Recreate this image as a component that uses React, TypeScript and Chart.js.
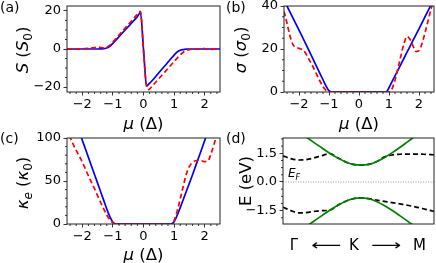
import React, { useEffect, useRef } from "react";
import { Chart, registerables } from "chart.js";

Chart.register(...registerables);

const FONT = '"DejaVu Sans", "Liberation Sans", sans-serif';
const W = 436;
const H = 263;

// ---------- data ----------
// (a) Seebeck coefficient S (S0) vs mu (Delta)
const muA = [-2.5, -2.2, -2.0, -1.8, -1.6, -1.5, -1.4, -1.3, -1.2, -1.1, -1.0, -0.8, -0.6, -0.4, -0.2, -0.1, 0, 0.1, 0.17, 0.3, 0.5, 0.7, 0.9, 1.0, 1.1, 1.2, 1.3, 1.4, 1.5, 1.6, 1.8, 2.0, 2.2, 2.4, 2.5];
const seebeckModel = [0, 0, 0, 0, 0, 0, 0.05, 0.2, 0.5, 1.4, 3.0, 6.5, 10.0, 13.5, 17.0, 19.2, 0, -19.5, -18.5, -16.3, -12.5, -8.8, -5.0, -3.2, -1.6, -0.7, -0.3, -0.1, 0, 0, 0, 0, 0, 0, 0];
const seebeckDft = [0, 0.1, 0.1, 0.3, 0.7, 1.0, 0.8, 0.6, 0.9, 2.0, 3.7, 7.3, 11.0, 14.6, 18.2, 19.8, -1, -19.5, -21.3, -19.2, -15.6, -12.0, -8.4, -6.6, -4.8, -3.1, -1.7, -0.8, -0.3, -0.1, 0.1, 0.2, -0.2, 0.1, 0];

// (b) electrical conductivity sigma (sigma0) and (c) electronic thermal conductivity kappa_e (kappa0)
const muB = [-2.5, -2.4, -2.3, -2.2, -2.1, -2.0, -1.9, -1.8, -1.7, -1.6, -1.5, -1.4, -1.3, -1.2, -1.1, -1.0, -0.9, -0.5, 0, 0.5, 0.9, 1.0, 1.1, 1.2, 1.3, 1.4, 1.5, 1.6, 1.7, 1.8, 1.9, 2.0, 2.1, 2.2, 2.3, 2.4, 2.5];
const sigmaModel = [42.7, 40, 37.2, 34.4, 31.6, 28.8, 26, 23.1, 20.2, 17.3, 14.4, 11.5, 8.6, 5.7, 2.8, 0.5, 0, 0, 0, 0, 0, 2.0, 4.8, 7.5, 10.2, 13, 15.7, 18.5, 21.2, 24, 26.7, 29.4, 32.2, 35, 37.7, 40.5, 43.2];
const sigmaDft = [37.5, 32, 26, 22, 20.8, 20.3, 19.8, 18.5, 16, 13.5, 10.8, 7.8, 5, 2.5, 0.8, 0.1, 0, 0, 0, 0, 0, 0, 1.5, 5.5, 11, 17, 22.5, 25.8, 24.5, 21.5, 18.8, 19.2, 22.5, 27.5, 33, 38.5, 43];
const kappaModel = [150, 140, 129, 118, 108, 97.5, 87.5, 77.5, 67.5, 57.5, 47.5, 37.5, 27.5, 17.5, 8.5, 2, 0, 0, 0, 0, 0, 2.5, 10, 19, 28.5, 38, 47.5, 57, 67, 77, 87, 97, 107, 117, 127, 137, 147];
const kappaDft = [112, 101, 93, 85.5, 79, 72, 64, 56, 48.5, 41, 33, 25, 17.5, 10.5, 5, 1.5, 0, 0, 0, 0, 0, 4, 15, 29, 44, 58, 67, 71.5, 73.5, 74, 73.5, 72.5, 73, 81, 92, 104, 116];

// (d) band structure along Gamma <- K -> M (K at 0)
const kPath = [-1.0, -0.9, -0.8, -0.7, -0.6, -0.5, -0.4, -0.3, -0.2, -0.1, 0, 0.1, 0.2, 0.3, 0.4, 0.5, 0.6, 0.7, 0.8, 0.9, 0.94];
const bandModelUpper = [3.2, 2.95, 2.65, 2.35, 2.06, 1.78, 1.5, 1.26, 1.06, 0.92, 0.88, 0.92, 1.06, 1.27, 1.52, 1.8, 2.1, 2.4, 2.7, 3.0, 3.12];
const bandModelLower = [-3.15, -2.9, -2.62, -2.33, -2.04, -1.76, -1.48, -1.23, -1.02, -0.88, -0.83, -0.88, -1.02, -1.23, -1.48, -1.76, -2.05, -2.35, -2.65, -2.95, -3.07];
const bandDftUpper = [1.37, 1.22, 1.15, 1.17, 1.26, 1.38, 1.48, 1.27, 1.06, 0.92, 0.88, 0.92, 1.06, 1.3, 1.41, 1.45, 1.46, 1.46, 1.45, 1.43, 1.42];
const bandDftLower = [-1.32, -1.5, -1.62, -1.6, -1.54, -1.5, -1.48, -1.23, -1.02, -0.88, -0.83, -0.87, -0.95, -1.02, -1.08, -1.15, -1.22, -1.3, -1.4, -1.5, -1.54];
const fermiLevel = 0;

// tick labels
const muTicks = [-2, -1, 0, 1, 2];
const seebeckTicks = [-20, 0, 20];
const sigmaTicks = [0, 20, 40];
const kappaTicks = [0, 50, 100];
const energyTicks = [-1.5, 0, 1.5];

// ---------- helpers ----------
type Seg = { t: string; it?: boolean; sub?: boolean };
type TextItem = { segs: Seg[]; x: number; y: number; size: number; rot?: boolean; align?: "left" | "center"; sx?: number };

const minus = (s: string) => s.replace("-", "\u2212");
const fmtInt = (v: number) => minus(String(v));
const fmt1 = (v: number) => minus(v.toFixed(1));

function drawRich(ctx: CanvasRenderingContext2D, item: TextItem) {
  const { segs, x, y, size, rot, align = "center", sx = 1 } = item;
  ctx.save();
  ctx.translate(x, y);
  if (rot) ctx.rotate(-Math.PI / 2);
  if (sx !== 1) ctx.scale(sx, 1);
  const fontOf = (s: Seg) => `${s.it ? "italic " : ""}${s.sub ? Math.round(size * 0.7) : size}px ${FONT}`;
  let total = 0;
  const widths = segs.map((s) => {
    ctx.font = fontOf(s);
    const w = ctx.measureText(s.t).width;
    total += w;
    return w;
  });
  let cx = align === "center" ? -total / 2 : 0;
  ctx.textBaseline = "alphabetic";
  ctx.textAlign = "left";
  ctx.fillStyle = "#000";
  const base = size * 0.36;
  segs.forEach((s, i) => {
    ctx.font = fontOf(s);
    ctx.fillText(s.t, cx, base + (s.sub ? size * 0.22 : 0));
    cx += widths[i];
  });
  ctx.restore();
}

const pts = (xs: number[], ys: number[]) => xs.map((x, i) => ({ x, y: ys[i] }));

const line = (data: any[], color: string, dashed: boolean, width = 1.7) => ({
  data,
  borderColor: color,
  borderWidth: width,
  borderDash: dashed ? [5, 3] : [],
  pointRadius: 0,
  fill: false,
  cubicInterpolationMode: "monotone",
});

interface PanelSpec {
  box: { l: number; t: number; r: number; b: number };
  xRange: [number, number];
  yRange: [number, number];
  xTicks: number[];
  yTicks: number[];
  yFmt: (v: number) => string;
  xMinor: number | null;
  yMinor: number;
  datasets: any[];
  texts: TextItem[];
}

const YW = 40;
const XH = 30;
const TICK_SIZE = 13;
const TITLE_SIZE = 16.5;

const muTitle = (x: number, y: number): TextItem => ({
  segs: [{ t: "\u03bc", it: true }, { t: " (\u0394)" }],
  x,
  y,
  size: TITLE_SIZE,
});

const specs: PanelSpec[] = [
  {
    box: { l: 67, t: 6, r: 220, b: 92 },
    xRange: [-2.5, 2.5],
    yRange: [-22.6, 22.6],
    xTicks: muTicks,
    yTicks: seebeckTicks,
    yFmt: fmtInt,
    xMinor: 0.2,
    yMinor: 5,
    datasets: [line(pts(muA, seebeckDft), "#ff0000", true), line(pts(muA, seebeckModel), "#0000ff", false)],
    texts: [
      { segs: [{ t: "(a)" }], x: 0, y: 6.5, size: 14, align: "left" },
      { segs: [{ t: "S", it: true }, { t: " (" }, { t: "S", it: true }, { t: "0", sub: true }, { t: ")" }], x: 22, y: 50, size: TITLE_SIZE, rot: true },
      muTitle(143.5, 123),
    ],
  },
  {
    box: { l: 284, t: 6, r: 434, b: 92 },
    xRange: [-2.5, 2.5],
    yRange: [0, 40],
    xTicks: muTicks,
    yTicks: sigmaTicks,
    yFmt: fmtInt,
    xMinor: 0.2,
    yMinor: 5,
    datasets: [line(pts(muB, sigmaDft), "#ff0000", true), line(pts(muB, sigmaModel), "#0000ff", false)],
    texts: [
      { segs: [{ t: "(b)" }], x: 226, y: 6.5, size: 14, align: "left" },
      { segs: [{ t: "\u03c3", it: true }, { t: " (" }, { t: "\u03c3", it: true }, { t: "0", sub: true }, { t: ")" }], x: 240, y: 50, size: TITLE_SIZE, rot: true },
      muTitle(359, 123),
    ],
  },
  {
    box: { l: 67, t: 138, r: 220, b: 224 },
    xRange: [-2.5, 2.5],
    yRange: [0, 100],
    xTicks: muTicks,
    yTicks: kappaTicks,
    yFmt: fmtInt,
    xMinor: 0.2,
    yMinor: 10,
    datasets: [line(pts(muB, kappaDft), "#ff0000", true), line(pts(muB, kappaModel), "#0000ff", false)],
    texts: [
      { segs: [{ t: "(c)" }], x: 0, y: 137.5, size: 14, align: "left" },
      {
        segs: [{ t: "\u03ba", it: true }, { t: "e", it: true, sub: true }, { t: " (" }, { t: "\u03ba", it: true }, { t: "0", sub: true }, { t: ")" }],
        x: 22,
        y: 183,
        size: TITLE_SIZE,
        rot: true,
      },
      muTitle(143.5, 254),
    ],
  },
  {
    box: { l: 283, t: 138, r: 434, b: 224 },
    xRange: [-1.0, 0.94],
    yRange: [-2.2, 2.3],
    xTicks: [],
    yTicks: energyTicks,
    yFmt: fmt1,
    xMinor: null,
    yMinor: 0.375,
    datasets: [
      line(pts(kPath, bandModelUpper), "#008000", false),
      line(pts(kPath, bandModelLower), "#008000", false),
      line(pts(kPath, bandDftUpper), "#000000", true),
      line(pts(kPath, bandDftLower), "#000000", true),
      {
        data: [
          { x: kPath[0], y: fermiLevel },
          { x: kPath[kPath.length - 1], y: fermiLevel },
        ],
        borderColor: "#999999",
        borderWidth: 1,
        borderDash: [1, 1.5],
        pointRadius: 0,
        fill: false,
      },
    ],
    texts: [
      { segs: [{ t: "(d)" }], x: 226, y: 137.5, size: 14, align: "left" },
      { segs: [{ t: "E (eV)" }], x: 245, y: 181, size: TITLE_SIZE, rot: true },
      { segs: [{ t: "E", it: true }, { t: "F", it: true, sub: true }], x: 288, y: 173, size: 12, align: "left" },
      { segs: [{ t: "\u0393" }], x: 294, y: 244.5, size: 15 },
      { segs: [{ t: "\u27f5" }], x: 326, y: 244.5, size: 15, sx: 1.4 },
      { segs: [{ t: "K" }], x: 354, y: 244.5, size: 15 },
      { segs: [{ t: "\u27f6" }], x: 386, y: 244.5, size: 15, sx: 1.4 },
      { segs: [{ t: "M" }], x: 419.5, y: 244.5, size: 15 },
    ],
  },
];

function decorPlugin(spec: PanelSpec) {
  return {
    id: "decor",
    afterDatasetsDraw(chart: any) {
      const ctx: CanvasRenderingContext2D = chart.ctx;
      const a = chart.chartArea;
      const xs = chart.scales.x;
      const ys = chart.scales.y;
      ctx.save();
      ctx.strokeStyle = "#000";
      ctx.lineWidth = 0.8;
      const near = (v: number, list: number[]) => list.some((m) => Math.abs(m - v) < 1e-6);
      ctx.beginPath();
      const [y0, y1] = spec.yRange;
      for (let v = Math.ceil(y0 / spec.yMinor) * spec.yMinor; v <= y1 + 1e-9; v += spec.yMinor) {
        const vv = Math.round(v * 1000) / 1000;
        if (near(vv, spec.yTicks)) continue;
        const py = ys.getPixelForValue(vv);
        ctx.moveTo(a.left - 2, py);
        ctx.lineTo(a.left, py);
      }
      if (spec.xMinor) {
        const [x0, x1] = spec.xRange;
        for (let v = Math.ceil(x0 / spec.xMinor) * spec.xMinor; v <= x1 + 1e-9; v += spec.xMinor) {
          const vv = Math.round(v * 1000) / 1000;
          if (near(vv, spec.xTicks)) continue;
          const px = xs.getPixelForValue(vv);
          ctx.moveTo(px, a.bottom);
          ctx.lineTo(px, a.bottom + 2);
        }
      }
      ctx.stroke();
      ctx.lineWidth = 1;
      ctx.strokeStyle = "#222";
      ctx.strokeRect(a.left, a.top, a.right - a.left, a.bottom - a.top);
      ctx.restore();
    },
    afterDraw(chart: any) {
      const ctx: CanvasRenderingContext2D = chart.ctx;
      spec.texts.forEach((t) => drawRich(ctx, t));
    },
  };
}

function Panel({ spec }: { spec: PanelSpec }) {
  const ref = useRef<HTMLCanvasElement | null>(null);
  useEffect(() => {
    if (!ref.current) return;
    const { box } = spec;
    const chart = new Chart(ref.current, {
      type: "line",
      data: { datasets: spec.datasets },
      options: {
        animation: false,
        responsive: false,
        maintainAspectRatio: false,
        devicePixelRatio: 1,
        events: [],
        layout: {
          padding: { left: box.l - YW, top: box.t, right: W - box.r, bottom: H - box.b - XH },
        },
        plugins: {
          legend: { display: false },
          tooltip: { enabled: false },
          title: { display: false },
        },
        scales: {
          x: {
            type: "linear",
            min: spec.xRange[0],
            max: spec.xRange[1],
            afterBuildTicks: (s: any) => {
              s.ticks = spec.xTicks.map((v) => ({ value: v }));
            },
            afterFit: (s: any) => {
              s.height = XH;
              s.paddingLeft = 0;
              s.paddingRight = 0;
              s.paddingTop = 0;
              s.paddingBottom = 0;
            },
            grid: { drawOnChartArea: false, drawTicks: spec.xTicks.length > 0, tickLength: 3.5, color: "#000", lineWidth: 0.8 },
            border: { display: false },
            ticks: {
              display: spec.xTicks.length > 0,
              font: { family: FONT, size: TICK_SIZE },
              color: "#000",
              padding: 1.5,
              maxRotation: 0,
              autoSkip: false,
              callback: (v: any) => fmtInt(Number(v)),
            },
          },
          y: {
            type: "linear",
            min: spec.yRange[0],
            max: spec.yRange[1],
            afterBuildTicks: (s: any) => {
              s.ticks = spec.yTicks.map((v) => ({ value: v }));
            },
            afterFit: (s: any) => {
              s.width = YW;
              s.paddingLeft = 0;
              s.paddingRight = 0;
              s.paddingTop = 0;
              s.paddingBottom = 0;
            },
            grid: { drawOnChartArea: false, drawTicks: true, tickLength: 3.5, color: "#000", lineWidth: 0.8 },
            border: { display: false },
            ticks: {
              font: { family: FONT, size: TICK_SIZE },
              color: "#000",
              padding: 2.5,
              autoSkip: false,
              callback: (v: any) => spec.yFmt(Number(v)),
            },
          },
        },
      } as any,
      plugins: [decorPlugin(spec)],
    });
    return () => chart.destroy();
  }, [spec]);
  return <canvas ref={ref} width={W} height={H} style={{ position: "absolute", left: 0, top: 0, width: W, height: H }} />;
}

export default function App() {
  return (
    <div style={{ position: "fixed", left: 0, top: 0, width: W, height: H, background: "#fff", overflow: "hidden" }}>
      {specs.map((s, i) => (
        <Panel key={i} spec={s} />
      ))}
    </div>
  );
}
